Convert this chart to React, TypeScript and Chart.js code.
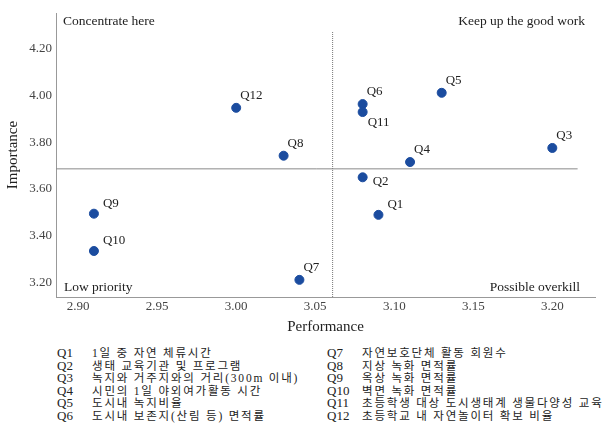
import React, { useEffect, useRef } from "react";
import { Chart, registerables } from "chart.js";

Chart.register(...registerables);

const questions = ["Q1", "Q2", "Q3", "Q4", "Q5", "Q6", "Q7", "Q8", "Q9", "Q10", "Q11", "Q12"];
const performance = [3.09, 3.08, 3.2, 3.11, 3.13, 3.08, 3.04, 3.03, 2.91, 2.91, 3.08, 3.0];
const importance = [3.49, 3.65, 3.775, 3.715, 4.01, 3.962, 3.213, 3.742, 3.495, 3.336, 3.928, 3.946];
const descriptions = [
  "1일 중 자연 체류시간",
  "생태 교육기관 및 프로그램",
  "녹지와 거주지와의 거리(300m 이내)",
  "시민의 1일 야외여가활동 시간",
  "도시내 녹지비율",
  "도시내 보존지(산림 등) 면적률",
  "자연보호단체 활동 회원수",
  "지상 녹화 면적률",
  "옥상 녹화 면적률",
  "벽면 녹화 면적률",
  "초등학생 대상 도시생태계 생물다양성 교육",
  "초등학교 내 자연놀이터 확보 비율",
];
const xTicks = [2.9, 2.95, 3.0, 3.05, 3.1, 3.15, 3.2];
const yTicks = [3.2, 3.4, 3.6, 3.8, 4.0, 4.2];
const xRange = [2.886, 3.227];
const yRange = [3.14, 4.35];
const meanPerformance = 3.061;
const meanImportance = 3.686;
const vLineTop = 4.27;
const hLineEnd = 3.216;
const quadrantLabels = ["Concentrate here", "Keep up the good work", "Low priority", "Possible overkill"];

const SERIF = "'Liberation Serif', 'Times New Roman', serif";
const KR = "'Liberation Serif', 'Noto Sans CJK KR', serif";

const placement: Record<string, [number, number]> = {
  ne: [4, -12],
  ene: [9, -10],
  se: [5, 11],
  e: [10, 4],
};
const labelPlace = (q: string) =>
  q === "Q1" || q === "Q9" || q === "Q10" ? "ene" : q === "Q11" ? "se" : q === "Q2" ? "e" : "ne";

const pointLabels = {
  id: "pointLabels",
  afterDatasetsDraw(chart: any) {
    const meta = chart.getDatasetMeta(0);
    const ctx = chart.ctx;
    ctx.save();
    ctx.font = `13px ${SERIF}`;
    ctx.fillStyle = "#222";
    ctx.textAlign = "left";
    ctx.textBaseline = "middle";
    meta.data.forEach((el: any, i: number) => {
      const q = questions[i];
      const [dx, dy] = placement[labelPlace(q)];
      ctx.fillText(q, el.x + dx, el.y + dy);
    });
    ctx.restore();
  },
};

function ScatterChart() {
  const ref = useRef<HTMLCanvasElement | null>(null);
  useEffect(() => {
    if (!ref.current) return;
    const chart = new Chart(ref.current, {
      type: "scatter",
      data: {
        datasets: [
          {
            data: questions.map((_, i) => ({ x: performance[i], y: importance[i] })),
            backgroundColor: "#1b4c9f",
            borderColor: "#1b4c9f",
            pointRadius: 4.5,
            pointHoverRadius: 4.5,
            order: 0,
          },
          {
            data: [
              { x: meanPerformance, y: yRange[0] },
              { x: meanPerformance, y: vLineTop },
            ],
            showLine: true,
            pointRadius: 0,
            borderColor: "#777",
            borderWidth: 1,
            borderDash: [1, 1],
            order: 1,
          },
          {
            data: [
              { x: xRange[0], y: meanImportance },
              { x: hLineEnd, y: meanImportance },
            ],
            showLine: true,
            pointRadius: 0,
            borderColor: "#8a8a8a",
            borderWidth: 1,
            order: 1,
          },
        ],
      },
      options: {
        animation: false,
        responsive: false,
        maintainAspectRatio: false,
        layout: { padding: { top: 13, right: 15, left: 0, bottom: 0 } },
        plugins: { legend: { display: false }, tooltip: { enabled: false } },
        scales: {
          x: {
            type: "linear",
            min: xRange[0],
            max: xRange[1],
            afterBuildTicks: (s: any) => {
              s.ticks = xTicks.map((v) => ({ value: v }));
            },
            afterFit: (s: any) => {
              s.height = 43;
            },
            grid: { display: false, drawTicks: false },
            border: { display: true, color: "#999", dash: [1, 1], width: 1 },
            ticks: {
              padding: 2,
              color: "#444",
              font: { family: SERIF, size: 13 },
              callback: (v: any) => Number(v).toFixed(2),
            },
            title: {
              display: true,
              text: "Performance",
              color: "#222",
              font: { family: SERIF, size: 15 },
              padding: { top: 2, bottom: 4 },
            },
          },
          y: {
            type: "linear",
            min: yRange[0],
            max: yRange[1],
            afterBuildTicks: (s: any) => {
              s.ticks = yTicks.map((v) => ({ value: v }));
            },
            afterFit: (s: any) => {
              s.width = 56;
            },
            grid: { display: false, drawTicks: false },
            border: { display: true, color: "#999", dash: [1, 1], width: 1 },
            ticks: {
              padding: 4,
              color: "#444",
              font: { family: SERIF, size: 13 },
              callback: (v: any) => Number(v).toFixed(2),
            },
            title: {
              display: true,
              text: "Importance",
              color: "#222",
              font: { family: SERIF, size: 15 },
              padding: { top: 4, bottom: 2 },
            },
          },
        },
      },
      plugins: [pointLabels],
    } as any);
    return () => chart.destroy();
  }, []);
  return <canvas ref={ref} width={610} height={340} style={{ display: "block" }} />;
}

export default function App() {
  const qStyle: React.CSSProperties = {
    display: "inline-block",
    width: 35,
    fontFamily: SERIF,
    fontSize: 13,
    letterSpacing: 0,
  };
  const row: React.CSSProperties = {
    height: 12.6,
    lineHeight: "12.6px",
    whiteSpace: "nowrap",
    overflow: "visible",
  };
  const descStyle: React.CSSProperties = {
    fontSize: 11.5,
    letterSpacing: 1.8,
    verticalAlign: "baseline",
  };
  const left = questions.slice(0, 6);
  const right = questions.slice(6);
  const qlabel = (text: string, st: React.CSSProperties) => (
    <div style={{ position: "absolute", font: `13.5px ${SERIF}`, color: "#222", lineHeight: "14px", whiteSpace: "nowrap", ...st }}>
      {text}
    </div>
  );
  const legendCol = (items: string[], offset: number, x: number) => (
    <div style={{ position: "absolute", left: x, top: 347, font: `13px ${KR}`, color: "#222" }}>
      {items.map((q, i) => (
        <div key={q} style={row}>
          <span style={qStyle}>{q}</span>
          <span style={descStyle}>{descriptions[i + offset]}</span>
        </div>
      ))}
    </div>
  );
  return (
    <div style={{ position: "fixed", left: 0, top: 0, width: 610, height: 430, background: "#fff", overflow: "hidden" }}>
      <ScatterChart />
      {qlabel(quadrantLabels[0], { left: 63, top: 14 })}
      {qlabel(quadrantLabels[1], { right: 25, top: 14 })}
      {qlabel(quadrantLabels[2], { left: 64, top: 280 })}
      {qlabel(quadrantLabels[3], { right: 30, top: 280 })}
      {legendCol(left, 0, 57)}
      {legendCol(right, 6, 327)}
    </div>
  );
}
